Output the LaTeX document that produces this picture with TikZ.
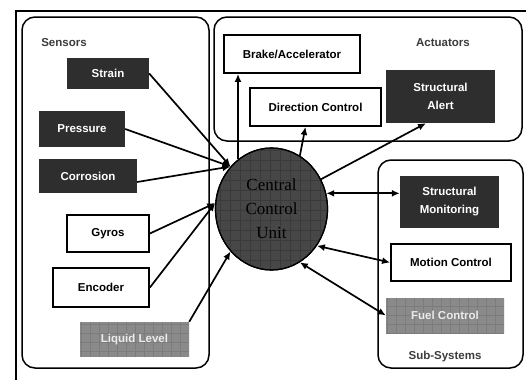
\documentclass[tikz,border=0pt]{standalone}
\usepackage{fontspec}
\setmainfont{Liberation Sans}
\newfontfamily\ccufont{Liberation Serif}
\usetikzlibrary{arrows.meta,shapes.geometric}
\definecolor{darkbox}{HTML}{2E2E2E}
\definecolor{greybox}{HTML}{8A8A8A}
\definecolor{greygrid}{HTML}{7C7C7C}
\definecolor{ccufill}{HTML}{474747}
\definecolor{ccugrid}{HTML}{3A3A3A}
\definecolor{labelgrey}{HTML}{3C3C3C}
\tikzset{
  unit/.style={draw=black, line width=1.5pt, rounded corners=13pt},
  boxtext/.style={font=\bfseries\fontsize{11.5}{18}\selectfont, align=center, inner sep=0pt},
  darkbox/.style={boxtext, fill=darkbox, text=white},
  whitebox/.style={boxtext, fill=white, draw=black, line width=1.8pt},
  greybox/.style={boxtext, fill=greybox, text=black!8},
  grouplabel/.style={font=\bfseries\fontsize{11.5}{14}\selectfont, text=labelgrey},
  link/.style={line width=1.7pt, -{Latex[length=8pt,width=7pt]}},
  twoway/.style={line width=1.7pt, {Latex[length=8pt,width=7pt]}-{Latex[length=8pt,width=7pt]}},
}
\begin{document}
\begin{tikzpicture}[x=1pt,y=-1pt]
\useasboundingbox (0,0) rectangle (526,380);
\fill[white] (0,0) rectangle (526,380);

% frame edges
\draw[line width=2.5pt] (526,11) -- (16,11) -- (16,380);

% groups
\draw[unit] (22,17) rectangle (209,368);
\draw[unit] (214,17) rectangle (522,141);
\draw[unit] (378,160) rectangle (523,368);
\node[grouplabel] (lsens) at (64,43) {Sensors};
\node[grouplabel] (lact) at (443,43) {Actuators};
\node[grouplabel] (lsub) at (445,357) {Sub-Systems};

% sensors
\node[darkbox, minimum width=82pt, minimum height=31pt] (strain) at (108,73.5) {Strain};
\node[darkbox, minimum width=86pt, minimum height=36pt] (pressure) at (82,129) {Pressure};
\node[darkbox, minimum width=98pt, minimum height=34pt] (corrosion) at (88,176) {Corrosion};
\node[whitebox, minimum width=82pt, minimum height=37pt] (gyros) at (108,233.5) {Gyros};
\node[whitebox, minimum width=96pt, minimum height=39pt] (encoder) at (101,287.5) {Encoder};
\node[greybox, minimum width=109pt, minimum height=35pt] (liquid) at (134.5,339.5) {};

% actuators
\node[whitebox, minimum width=136pt, minimum height=38pt] (brake) at (292,54) {Brake/Accelerator};
\node[whitebox, minimum width=131pt, minimum height=38pt] (direction) at (315.5,107) {Direction Control};
\node[darkbox, minimum width=109pt, minimum height=53pt] (alert) at (440.5,96.5) {Structural\\Alert};

% sub-systems
\node[darkbox, minimum width=99pt, minimum height=52pt] (monitor) at (449.5,202) {Structural\\Monitoring};
\node[whitebox, minimum width=120pt, minimum height=37pt] (motion) at (451,262.5) {Motion Control};
\node[greybox, minimum width=118pt, minimum height=35pt] (fuel) at (445,315.5) {};

% faint texture on the grey boxes
\foreach \b in {liquid,fuel}{
  \begin{scope}
    \clip (\b.south west) rectangle (\b.north east);
    \draw[greygrid, line width=0.5pt, step=9pt] (\b.south west) grid (\b.north east);
  \end{scope}
}
\node[boxtext, text=black!8] (liquidtext) at (liquid) {Liquid Level};
\node[boxtext, text=black!8] (fueltext) at (fuel) {Fuel Control};

% central control unit
\node[ellipse, fill=ccufill, draw=black, line width=1.2pt, minimum width=112pt, minimum height=122pt, inner sep=0pt] (ccu) at (271.5,209) {};
\begin{scope}
  \clip (271.5,209) ellipse [x radius=55.5pt, y radius=60.5pt];
  \draw[ccugrid, line width=0.5pt, step=10pt] (210,140) grid (335,280);
\end{scope}
\draw[line width=1.2pt] (ccu) ellipse [x radius=56pt, y radius=61pt];
\node[font=\ccufont\fontsize{17}{24}\selectfont, align=center, text=black] (ccutext) at (271.5,209) {Central\\Control\\Unit};

% sensor inputs
\draw[link] (strain.east) -- (ccu.134);
\draw[link] (pressure.east) -- (ccu.134);
\draw[link] ([yshift=-6pt]corrosion.east) -- (ccu.134);
\draw[link] (gyros.east) -- (ccu.174);
\draw[link] (encoder.east) -- (ccu.174);
\draw[link] (liquid.north east) -- (ccu.226);

% actuator outputs
\draw[link] (ccu.124) -- (ccu.124 |- brake.south);
\draw[link] (ccu.62) -- ([xshift=-10pt]direction.south);
\draw[link] (ccu.31) -- ([xshift=-14.5pt]alert.south);

% sub-system links
\draw[twoway] (ccu.16.5) -- (ccu.16.5 -| monitor.west);
\draw[twoway] (ccu.-39) -- (motion.west);
\draw[twoway] (ccu.-62) -- (fuel.west);
\end{tikzpicture}
\end{document}
